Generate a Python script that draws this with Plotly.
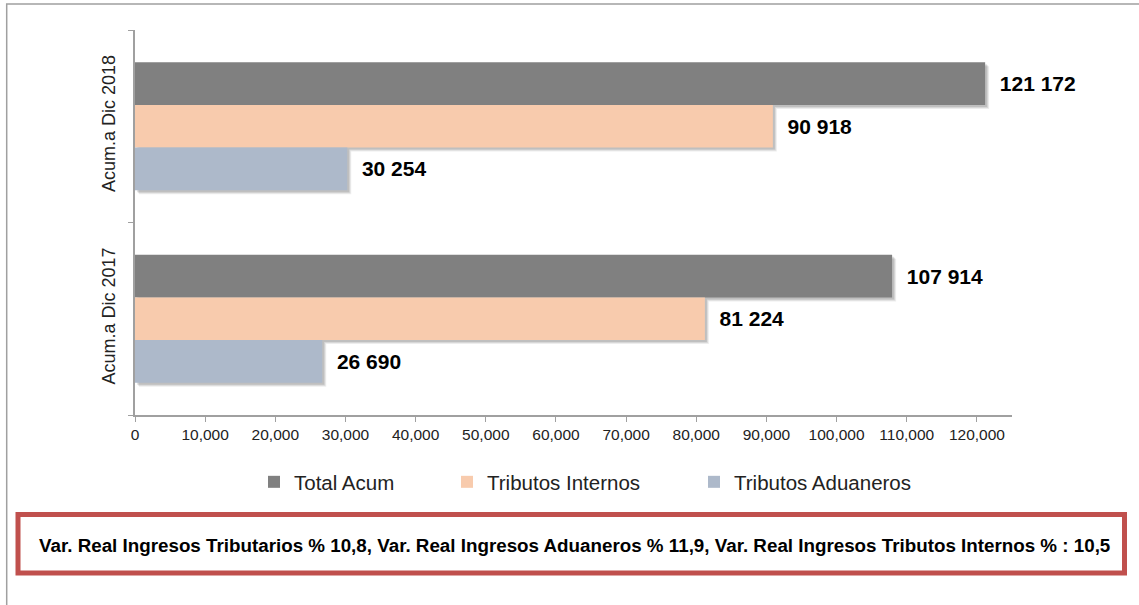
import plotly.graph_objects as go

categories = ["Acum.a Dic 2017", "Acum.a Dic 2018"]
series_names = ["Total Acum", "Tributos Internos", "Tributos Aduaneros"]
total_acum = [107914, 121172]
tributos_internos = [81224, 90918]
tributos_aduaneros = [26690, 30254]
x_ticks = list(range(0, 130000, 10000))
note_text = ("Var. Real Ingresos Tributarios % 10,8, Var. Real Ingresos Aduaneros % 11,9, "
             "Var. Real Ingresos Tributos Internos % : 10,5")

colors = ["#808080", "#F8CBAD", "#ADB9CA"]
values = [total_acum, tributos_internos, tributos_aduaneros]

W, H = 1139, 605
L, R, T, B = 135, 127, 30, 190
pw, ph = W - L - R, H - T - B
xmax = 125000
px_per_unit = pw / xmax
band_px = ph / 2.0

bar_w = 0.222
offsets = [0.111, -0.111, -0.333]
legend_text_px = [294, 487, 734]
legend_ids = ["legend", "legend2", "legend3"]


def fmt(v):
    return "\u00a0\u00a0" + f"{v:,}".replace(",", " ")


def px_x(p):
    return (p - L) / pw


def px_y(p):
    return (H - B - p) / ph


fig = go.Figure()

# soft drop shadows (drawn first, behind all bars)
for shift_px, alpha in [(4, 0.07), (3, 0.09), (2, 0.11)]:
    for vals, off in zip(values, offsets):
        fig.add_trace(go.Bar(
            y=categories, x=vals, base=shift_px / px_per_unit,
            orientation="h", width=bar_w, offset=off - shift_px / band_px,
            marker=dict(color=f"rgba(0,0,0,{alpha})", line=dict(width=0)),
            showlegend=False, hoverinfo="skip",
        ))

for name, vals, col, off, lg in zip(series_names, values, colors, offsets, legend_ids):
    fig.add_trace(go.Bar(
        name=name, y=categories, x=vals, orientation="h",
        width=bar_w, offset=off, legend=lg,
        marker=dict(color=col, line=dict(width=0)),
        text=[fmt(v) for v in vals], textposition="outside",
        textfont=dict(family="Liberation Sans, Arial", size=21, color="black", weight="bold"),
        constraintext="none", cliponaxis=False,
    ))

shapes = [
    # outer frame (only top and left edges visible)
    dict(type="rect", xref="paper", yref="paper",
         x0=px_x(6.7), x1=px_x(W + 20), y0=px_y(H + 20), y1=px_y(4),
         line=dict(color="#A0A0A0", width=1.5), fillcolor="rgba(0,0,0,0)", layer="below"),
    # red note box
    dict(type="rect", xref="paper", yref="paper",
         x0=px_x(18), x1=px_x(1124.5), y0=px_y(573), y1=px_y(514.5),
         line=dict(color="#C0504D", width=5), fillcolor="white"),
]

legend_style = dict(orientation="h", yanchor="middle", y=px_y(482), xanchor="left",
                    font=dict(size=20.5, color="#222"), bgcolor="rgba(0,0,0,0)")

fig.update_layout(
    width=W, height=H,
    margin=dict(l=L, r=R, t=T, b=B, autoexpand=False),
    barmode="overlay",
    paper_bgcolor="white", plot_bgcolor="white",
    font=dict(family="Liberation Sans, Arial", color="black"),
    xaxis=dict(
        range=[0, xmax], tickvals=x_ticks, ticktext=[f"{v:,}" for v in x_ticks],
        showgrid=False, zeroline=False, showline=True, linecolor="#A0A0A0", linewidth=1.5,
        ticks="outside", ticklen=5, tickcolor="#A0A0A0",
        tickfont=dict(size=15.5, color="#222"), fixedrange=True,
    ),
    yaxis=dict(
        type="category", categoryorder="array", categoryarray=categories,
        range=[-0.5, 1.5], showgrid=False, zeroline=False,
        showline=True, linecolor="#A0A0A0", linewidth=1.5,
        ticks="outside", ticklen=5, tickcolor="#A0A0A0", tickson="boundaries",
        tickangle=-90, tickfont=dict(size=18, color="#222"), ticklabelstandoff=11,
        fixedrange=True,
    ),
    legend=dict(legend_style, x=px_x(legend_text_px[0] - 40)),
    legend2=dict(legend_style, x=px_x(legend_text_px[1] - 40)),
    legend3=dict(legend_style, x=px_x(legend_text_px[2] - 40)),
    shapes=shapes,
    annotations=[dict(
        xref="paper", yref="paper", x=px_x(574.7), y=px_y(545),
        xanchor="center", yanchor="middle", showarrow=False,
        text=f"<b>{note_text}</b>",
        font=dict(size=18.8, color="black", family="Liberation Sans, Arial"),
    )],
)

fig.write_html("out.html", config={"displayModeBar": False},
               post_script="document.body.style.margin='0px';")
